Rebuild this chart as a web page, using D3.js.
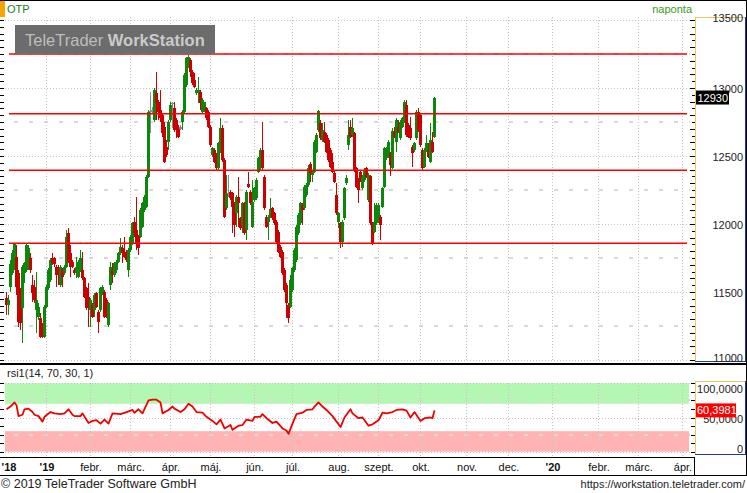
<!DOCTYPE html>
<html><head><meta charset="utf-8">
<script src="https://cdn.jsdelivr.net/npm/d3@7"></script>
<style>body{margin:0;background:#fff}svg{display:block}</style>
</head><body><svg id="c" width="747" height="493"></svg>
<script>
// ---- data ----
const candleOpen = [
11453,11404,11539,11637,11686,11760,11637,11490,11382,11637,
11662,11686,11748,11551,11539,11368,11319,11306,11245,11172,
11392,11527,11588,11748,11748,11686,11686,11551,11662,11637,
11686,11931,11784,11723,11662,11637,11613,11662,11662,11600,
11527,11466,11368,11404,11368,11490,11355,11368,11490,11502,
11441,11257,11551,11662,11625,11662,11723,11784,11821,11797,
11784,11662,11809,11858,12017,11956,11907,11907,11980,12103,
12128,12348,12833,12838,12765,12961,12900,12838,12802,12716,
12569,12605,12765,12892,12851,12765,12704,12711,12753,12826,
13022,13157,13206,13120,13059,12961,12961,12973,12826,12838,
12851,12826,12716,12507,12544,12507,12409,12544,12704,12471,
12115,12230,12238,12226,12152,12079,12201,12042,11993,12152,
11956,12294,12238,11980,12177,12189,12385,12471,12544,12348,
12054,12017,12054,12115,12079,12017,11944,11833,11797,11662,
11551,11404,11392,11515,11662,11735,11931,12005,12140,12115,
12213,12287,12441,12360,12385,12532,12691,12740,12618,12679,
12655,12618,12544,12458,12373,12213,12017,12005,11870,12042,
12299,12581,12716,12655,12667,12409,12324,12385,12262,12324,
12409,12177,12353,12005,11944,12005,12017,12054,12128,12275,
12483,12495,12520,12414,12679,12605,12716,12630,12716,12753,
12875,12728,12704,12569,12544,12630,12826,12802,12544,12422,
12544,12544,12458,12605,12642];
const candleHigh = [
11497,11478,11735,11809,11863,11846,11662,11527,11699,11723,
11858,11846,11784,11625,11588,11650,11417,11343,11270,11404,
11551,11674,11748,11784,11760,11699,11699,11699,11674,11699,
11956,11968,11846,11735,11674,11760,11735,11809,11797,11613,
11539,11564,11453,11417,11490,11502,11368,11539,11551,11515,
11453,11429,11723,11711,11723,11735,11797,11895,11846,11907,
11809,11821,11919,12017,12054,12201,11919,12115,12164,12213,
12360,12838,12973,12863,12998,13120,12912,12985,12814,12753,
12618,12765,12900,12900,12900,12777,12728,12728,12838,13108,
13230,13243,13218,13132,13108,12998,13083,12985,12924,12900,
12863,12838,12728,12569,12556,12520,12605,12777,12728,12483,
12360,12360,12250,12238,12164,12213,12348,12054,12164,12164,
12250,12385,12250,12324,12275,12336,12495,12556,12753,12360,
12066,12066,12189,12128,12091,12030,11956,11846,11809,11674,
11564,11417,11625,11686,11821,11993,12079,12164,12152,12287,
12299,12434,12458,12397,12618,12667,12838,12765,12740,12753,
12667,12630,12556,12520,12397,12299,12091,12017,12030,12275,
12360,12765,12765,12777,12679,12422,12336,12397,12360,12409,
12422,12373,12360,12017,12152,12152,12152,12066,12275,12569,
12569,12618,12532,12704,12716,12777,12765,12765,12789,12912,
12912,12740,12789,12581,12605,12838,12851,12814,12556,12556,
12655,12593,12740,12679,12936];
const candleLow = [
11331,11331,11502,11625,11662,11478,11245,11221,11125,11564,
11650,11662,11637,11429,11417,11196,11294,11159,11159,11159,
11380,11515,11576,11699,11686,11539,11551,11539,11539,11625,
11674,11711,11613,11674,11625,11600,11600,11650,11588,11453,
11368,11245,11245,11306,11319,11380,11196,11355,11478,11306,
11306,11245,11515,11564,11613,11637,11711,11772,11711,11748,
11723,11613,11797,11846,11907,11809,11772,11895,11968,12091,
12115,12336,12667,12814,12753,12765,12765,12753,12642,12446,
12495,12544,12753,12704,12679,12630,12630,12691,12691,12814,
13010,13145,13083,13022,12998,12949,12887,12838,12814,12826,
12765,12704,12569,12495,12446,12397,12397,12520,12458,12042,
12103,12201,12177,11931,11907,11980,11980,11956,11931,11919,
11882,12262,12140,11968,12164,12177,12373,12397,12397,12103,
11968,11882,12042,12030,11993,11858,11784,11748,11625,11502,
11306,11270,11380,11502,11650,11723,11919,11993,11993,12103,
12201,12275,12311,12311,12373,12520,12679,12618,12605,12593,
12520,12458,12409,12373,12299,12066,11968,11821,11833,12030,
12287,12544,12630,12642,12385,12262,12152,12311,12250,12311,
12336,12164,11993,11846,11931,11993,12005,11882,12115,12262,
12471,12483,12353,12402,12630,12532,12667,12618,12704,12740,
12642,12630,12618,12422,12532,12618,12679,12569,12397,12409,
12532,12483,12446,12520,12630];
const candleClose = [
11404,11441,11706,11784,11853,11539,11282,11270,11684,11711,
11846,11821,11662,11490,11441,11441,11392,11172,11184,11392,
11539,11662,11735,11711,11706,11625,11637,11686,11613,11686,
11907,11723,11686,11686,11637,11686,11723,11748,11600,11466,
11380,11392,11441,11319,11478,11392,11282,11527,11539,11319,
11319,11417,11686,11625,11711,11723,11784,11833,11784,11760,
11735,11809,11907,12005,11931,11858,11821,12103,12152,12201,
12348,12826,12833,12838,12985,12887,12826,12777,12667,12458,
12507,12753,12875,12892,12691,12691,12642,12711,12826,13096,
13218,13230,13120,13034,13010,12985,12985,12887,12912,12900,
12777,12716,12581,12556,12458,12409,12593,12704,12471,12054,
12226,12230,12189,12128,11993,12201,12152,11968,12152,11931,
12238,12275,12152,12164,12262,12324,12483,12544,12409,12115,
11980,12054,12108,12042,12005,11870,11797,11760,11637,11515,
11417,11306,11588,11674,11809,11980,12066,12152,12103,12275,
12287,12409,12373,12385,12605,12655,12831,12630,12691,12605,
12532,12471,12422,12385,12311,12079,12079,11870,12017,12262,
12336,12655,12642,12704,12397,12275,12250,12324,12348,12397,
12348,12360,12005,11858,12017,12140,12140,11993,12262,12556,
12556,12605,12434,12686,12642,12765,12679,12753,12777,12900,
12655,12642,12630,12520,12593,12826,12691,12581,12409,12544,
12593,12495,12618,12532,12930];
const levelLines = [13250, 12810, 12395, 11858];
const priceTicks = [11000, 11500, 12000, 12500, 13000, 13500];
const midLevels = [11250, 11750, 12250, 12750, 13250];
const monthIdx = [1, 20, 42, 62, 82, 102, 124, 143, 166, 186, 207, 230, 251, 273, 296, 316, 338];
const monthLabels = ["'18", "'19", "febr.", "márc.", "ápr.", "máj.", "jún.", "júl.", "aug.", "szept.", "okt.", "nov.", "dec.", "'20", "febr.", "márc.", "ápr."];
const rsiIdx = [0,2,4,5,6,8,9,11,13,14,16,18,19,22,24,27,29,31,33,34,37,38,41,43,45,47,49,51,53,57,60,63,64,66,68,71,73,75,77,78,81,83,84,87,89,91,93,95,98,100,103,105,107,109,112,113,116,118,120,123,124,127,128,130,133,135,138,140,141,143,145,148,150,153,154,156,158,160,163,167,169,172,173,176,178,181,183,186,188,190,193,195,198,200,202,204,207,209,212,213,214];
const rsiVal = [62,66,72,68,52,54,62,63,58,54,52,44,51,58,56,55,56,62,54,52,52,56,42,45,46,41,47,41,56,55,58,61,57,62,56,75,76,76,72,56,61,66,63,58,62,70,66,58,57,51,45,40,47,34,39,32,38,39,47,45,51,51,55,49,42,44,34,31,26,41,55,57,61,62,66,72,66,61,52,36,50,62,56,49,50,38,40,46,57,56,58,61,62,60,50,58,45,49,50,49,60.3981];
const rsiTicks = [0, 50, 100];
const rsiBands = [[70, 100, "#b3f7b3"], [0, 30, "#ffb3b3"]];
const lastPrice = 12930;
const lastRsi = 60.3981;

// ---- drawing ----
const FONT = '"Liberation Sans", Arial, sans-serif';
const svg = d3.select("#c").attr("font-family", FONT);
const x = d3.scaleLinear().domain([0, 344]).range([6.5, 694.5]);
const y = d3.scaleLinear().domain([11000, 13500]).range([360, 20]);
const yr = d3.scaleLinear().domain([0, 100]).range([451.7, 383.3]);
const GRID = "#c4c4c4";

svg.append("rect").attr("width", 747).attr("height", 493).attr("fill", "#fff");

// RSI bands
svg.append("g").selectAll("rect").data(rsiBands).join("rect")
  .attr("x", 5).attr("width", 684)
  .attr("y", d => yr(d[1])).attr("height", d => yr(d[0]) - yr(d[1]))
  .attr("fill", d => d[2]);

// grids
const g = svg.append("g").attr("shape-rendering", "crispEdges");
g.selectAll(".hg").data(priceTicks).join("line")
  .attr("x1", 5).attr("x2", 690).attr("y1", d => Math.round(y(d)) + 0.5).attr("y2", d => Math.round(y(d)) + 0.5)
  .attr("stroke", GRID).attr("stroke-dasharray", "1,2");
g.selectAll(".hm").data(midLevels).join("line")
  .attr("x1", 14).attr("x2", 690).attr("y1", d => Math.round(y(d))).attr("y2", d => Math.round(y(d)))
  .attr("stroke", "#d8d8d8").attr("stroke-width", 1.5).attr("stroke-dasharray", "4,11");
g.selectAll(".rg").data(rsiTicks).join("line")
  .attr("x1", 5).attr("x2", 690).attr("y1", d => Math.round(yr(d)) + 0.5).attr("y2", d => Math.round(yr(d)) + 0.5)
  .attr("stroke", GRID).attr("stroke-dasharray", "1,2");
g.selectAll(".rm").data([25, 75]).join("line")
  .attr("x1", 14).attr("x2", 690).attr("y1", d => Math.round(yr(d))).attr("y2", d => Math.round(yr(d)))
  .attr("stroke", "#d8d8d8").attr("stroke-width", 1.5).attr("stroke-dasharray", "4,11");
const vgrid = monthIdx.slice(1);
g.selectAll(".vg").data(vgrid).join("line")
  .attr("x1", d => Math.floor(x(d)) + 0.5).attr("x2", d => Math.floor(x(d)) + 0.5)
  .attr("y1", 17).attr("y2", 362).attr("stroke", GRID).attr("stroke-dasharray", "1,2");
g.selectAll(".vr").data(vgrid).join("line")
  .attr("x1", d => Math.floor(x(d)) + 0.5).attr("x2", d => Math.floor(x(d)) + 0.5)
  .attr("y1", 383).attr("y2", 456).attr("stroke", GRID).attr("stroke-dasharray", "1,2");

// candles
const idx = d3.range(candleClose.length);
const col = i => candleClose[i] > candleOpen[i] ? "#0b870b" : (candleClose[i] < candleOpen[i] ? "#cc0000" : "#8a8a8a");
const cg = svg.append("g").attr("shape-rendering", "crispEdges");
cg.selectAll(".w").data(idx).join("line")
  .attr("x1", i => Math.floor(x(i)) + 0.5).attr("x2", i => Math.floor(x(i)) + 0.5)
  .attr("y1", i => y(candleHigh[i])).attr("y2", i => y(candleLow[i]))
  .attr("stroke", col);
cg.selectAll(".b").data(idx).join("rect")
  .attr("x", i => Math.floor(x(i)) - 1).attr("width", 3)
  .attr("y", i => Math.min(y(candleOpen[i]), y(candleClose[i])))
  .attr("height", i => Math.max(1.5, Math.abs(y(candleOpen[i]) - y(candleClose[i]))))
  .attr("fill", col);

// support/resistance lines
svg.append("g").selectAll("line").data(levelLines).join("line")
  .attr("x1", 9).attr("x2", 687).attr("y1", d => y(d)).attr("y2", d => y(d))
  .attr("stroke", "#ff0000").attr("stroke-width", 1.5);

// RSI line
svg.append("path").datum(rsiIdx.map((d, i) => [d, rsiVal[i]]))
  .attr("d", d3.line().x(d => x(d[0])).y(d => yr(d[1])))
  .attr("fill", "none").attr("stroke", "#f00000").attr("stroke-width", 1.8).attr("stroke-linejoin", "round");

// watermark
svg.append("rect").attr("x", 15).attr("y", 25).attr("width", 200).attr("height", 29).attr("fill", "#6c6c6c");
const wt = svg.append("text").attr("x", 25).attr("y", 45.5).attr("font-size", 16.5).attr("fill", "#bdbdbd");
wt.append("tspan").text("TeleTrader ");
wt.append("tspan").attr("font-weight", "bold").attr("fill", "#cacaca").text("WorkStation");

// title row
svg.append("rect").attr("x", 0).attr("y", 0).attr("width", 5).attr("height", 17).attr("fill", "#f7a400");
svg.append("text").attr("x", 7).attr("y", 13).attr("font-size", 11).attr("fill", "#1d7a2a").text("OTP");
svg.append("text").attr("x", 692).attr("y", 12.5).attr("text-anchor", "end").attr("font-size", 11).attr("fill", "#3a9a1a").text("naponta");
svg.append("text").attr("x", 7).attr("y", 377).attr("font-size", 11).attr("fill", "#222").text("rsi1(14, 70, 30, 1)");

// frame lines
const fr = svg.append("g").attr("shape-rendering", "crispEdges");
fr.append("line").attr("x1", 0).attr("x2", 747).attr("y1", 0.5).attr("y2", 0.5).attr("stroke", "#000");
fr.append("rect").attr("x", 0).attr("y", 363).attr("width", 747).attr("height", 2).attr("fill", "#000");
fr.append("line").attr("x1", 0).attr("x2", 695).attr("y1", 457.5).attr("y2", 457.5).attr("stroke", "#000");
fr.append("line").attr("x1", 694.5).attr("x2", 694.5).attr("y1", 457).attr("y2", 476).attr("stroke", "#000");
fr.append("line").attr("x1", 0).attr("x2", 747).attr("y1", 475.5).attr("y2", 475.5).attr("stroke", "#000");
fr.append("line").attr("x1", 746.5).attr("x2", 746.5).attr("y1", 0).attr("y2", 476).attr("stroke", "#000");
function box(y0, y1) {
  fr.append("line").attr("x1", 695).attr("x2", 745).attr("y1", y0 + 0.5).attr("y2", y0 + 0.5).attr("stroke", "#f0c45c");
  fr.append("line").attr("x1", 695.5).attr("x2", 695.5).attr("y1", y0).attr("y2", y1).attr("stroke", "#f0c45c");
  fr.append("line").attr("x1", 745.5).attr("x2", 745.5).attr("y1", y0).attr("y2", y1 + 1).attr("stroke", "#1c3c9c");
  fr.append("line").attr("x1", 695).attr("x2", 746).attr("y1", y1 + 0.5).attr("y2", y1 + 0.5).attr("stroke", "#1c3c9c");
}
box(17, 361);
box(381, 454);

// minor ticks
const mt = d3.range(11000, 13501, 50);
fr.selectAll(".tl").data(mt).join("line")
  .attr("x1", 0).attr("x2", 4).attr("y1", d => Math.round(y(d)) + 0.5).attr("y2", d => Math.round(y(d)) + 0.5).attr("stroke", "#000");
fr.selectAll(".tr").data(mt).join("line")
  .attr("x1", d => d % 100 === 0 ? 690 : 692).attr("x2", 695).attr("y1", d => Math.round(y(d)) + 0.5).attr("y2", d => Math.round(y(d)) + 0.5).attr("stroke", "#000");
const rt = d3.range(0, 100.1, 12.5);
fr.selectAll(".rl").data(rt).join("line")
  .attr("x1", 0).attr("x2", 4).attr("y1", d => Math.round(yr(d)) + 0.5).attr("y2", d => Math.round(yr(d)) + 0.5).attr("stroke", "#000");
fr.selectAll(".rr").data(rt).join("line")
  .attr("x1", 691).attr("x2", 695).attr("y1", d => Math.round(yr(d)) + 0.5).attr("y2", d => Math.round(yr(d)) + 0.5).attr("stroke", "#000");

// price axis labels
svg.append("g").attr("transform", "translate(743,0)")
  .call(d3.axisLeft(y).tickValues(priceTicks).tickSize(0).tickPadding(0).tickFormat(d3.format("d")))
  .call(a => a.select(".domain").remove())
  .attr("font-family", FONT).attr("font-size", 11)
  .selectAll("text").attr("fill", "#222").attr("dy", d => (d === 13500 || d === 11000) ? 1 : 4.8);

// RSI axis labels
svg.append("g").attr("transform", "translate(743,0)")
  .call(d3.axisLeft(yr).tickValues(rsiTicks).tickSize(0).tickPadding(0)
    .tickFormat(d => d === 0 ? "0" : d.toFixed(4).replace(".", ",")))
  .call(a => a.select(".domain").remove())
  .attr("font-family", FONT).attr("font-size", 11)
  .selectAll("text").attr("fill", "#222").attr("dy", d => d === 100 ? 9.6 : (d === 50 ? 4.9 : 0.3));

// last value markers
svg.append("rect").attr("x", 696).attr("y", y(lastPrice) - 7).attr("width", 33).attr("height", 14).attr("fill", "#000");
svg.append("text").attr("x", 697.5).attr("y", y(lastPrice) + 4).attr("font-size", 11).attr("fill", "#fff").text(String(lastPrice));
svg.append("rect").attr("x", 696).attr("y", yr(lastRsi) - 7).attr("width", 40).attr("height", 14).attr("fill", "#ff0000");
svg.append("text").attr("x", 697).attr("y", yr(lastRsi) + 4).attr("font-size", 11).attr("fill", "#fff")
  .text(lastRsi.toFixed(4).replace(".", ","));

// x axis
svg.append("g").attr("transform", "translate(0,463)")
  .call(d3.axisBottom(x).tickValues(monthIdx).tickSize(0).tickPadding(0).tickFormat((d, i) => monthLabels[i]))
  .call(a => a.select(".domain").remove())
  .attr("font-family", FONT).attr("font-size", 11)
  .selectAll("text").attr("fill", "#111")
  .attr("font-weight", (d, i) => monthLabels[i].startsWith("'") ? "bold" : "normal");

// footer
svg.append("text").attr("x", 1).attr("y", 488).attr("font-size", 12.5).attr("fill", "#222").text("© 2019 TeleTrader Software GmbH");
svg.append("text").attr("x", 745).attr("y", 488).attr("text-anchor", "end").attr("font-size", 11).attr("fill", "#222").text("https://workstation.teletrader.com/");
</script>
</body></html>
